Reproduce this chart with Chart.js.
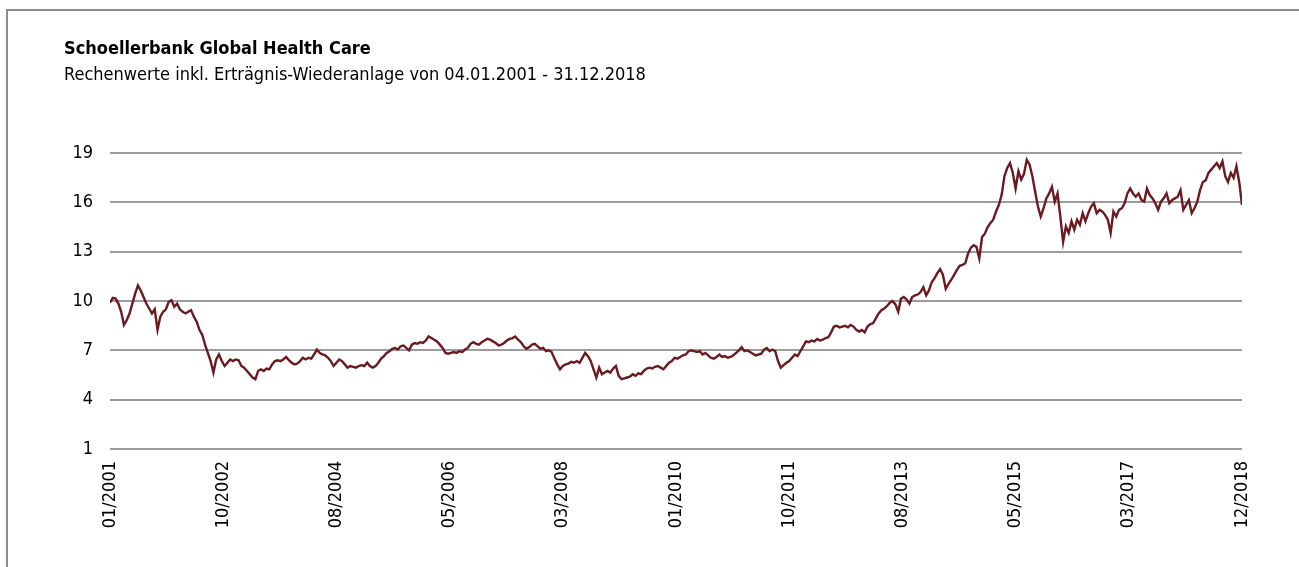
<!DOCTYPE html>
<html>
<head>
<meta charset="utf-8">
<title>Schoellerbank Global Health Care</title>
<script src="https://cdn.jsdelivr.net/npm/chart.js@4.4.1/dist/chart.umd.min.js"></script>
<style>
    html, body { margin: 0; padding: 0; background: #fff; overflow: hidden; }
    #wrap { position: relative; width: 1299px; height: 567px; }
    #frame {
        position: absolute; left: 6px; top: 9px; right: -10px; bottom: -10px;
        border-top: 2px solid #8c8c8c; border-left: 2px solid #8c8c8c;
    }
    #chart { position: absolute; left: 0; top: 0; }
</style>
</head>
<body>
<div id="wrap">
    <div id="frame"></div>
    <canvas id="chart" width="1299" height="567"></canvas>
</div>
<script>
const chartTitle = 'Schoellerbank Global Health Care';
const chartSubtitle = 'Rechenwerte inkl. Erträgnis-Wiederanlage von 04.01.2001 - 31.12.2018';

// date labels shown under the x axis, evenly spread from first to last value
const xTickLabels = ['01/2001', '10/2002', '08/2004', '05/2006', '03/2008', '01/2010',
    '10/2011', '08/2013', '05/2015', '03/2017', '12/2018'];

const yTicks = [1, 4, 7, 10, 13, 16, 19];

// fund value, roughly one point every 2.8px
const navValues = [
    // 2001 - 2003
    9.9, 10.2, 10.15, 9.85, 9.35, 8.55, 8.85, 9.25, 9.85, 10.45,
    10.95, 10.65, 10.25, 9.85, 9.55, 9.25, 9.5, 8.25, 9.05, 9.35,
    9.5, 9.95, 10.05, 9.65, 9.85, 9.5, 9.35, 9.25, 9.35, 9.45,
    9.05, 8.75, 8.25, 7.95, 7.35, 6.85, 6.35, 5.65, 6.45, 6.75,
    6.35, 6.05, 6.25, 6.45, 6.35, 6.45, 6.4, 6.05, 5.95, 5.75,
    5.55, 5.35, 5.25, 5.75, 5.85, 5.75, 5.9, 5.85, 6.15, 6.35,
    6.4, 6.35, 6.45, 6.6, 6.4, 6.25, 6.15, 6.2, 6.35, 6.55,
    // 2004 - 2006
    6.45, 6.55, 6.5, 6.75, 7.05, 6.85, 6.75, 6.7, 6.55, 6.35,
    6.05, 6.25, 6.45, 6.35, 6.15, 5.95, 6.05, 6.0, 5.95, 6.05,
    6.1, 6.05, 6.25, 6.05, 5.95, 6.05, 6.25, 6.5, 6.65, 6.85,
    6.95, 7.1, 7.15, 7.05, 7.25, 7.3, 7.15, 7.0, 7.35, 7.45,
    7.4, 7.5, 7.45, 7.6, 7.85, 7.75, 7.65, 7.55, 7.35, 7.15,
    6.85, 6.8, 6.85, 6.9, 6.85, 6.95, 6.9, 7.05, 7.15, 7.4,
    7.5, 7.4, 7.35, 7.5, 7.6, 7.7, 7.65, 7.55, 7.45, 7.3,
    // 2007 - 2009
    7.35, 7.45, 7.6, 7.7, 7.75, 7.85, 7.65, 7.5, 7.25, 7.1,
    7.2, 7.35, 7.4, 7.25, 7.1, 7.15, 6.95, 7.0, 6.9, 6.5,
    6.15, 5.85, 6.05, 6.15, 6.2, 6.3, 6.25, 6.35, 6.25, 6.55,
    6.85, 6.65, 6.35, 5.85, 5.35, 5.95, 5.55, 5.65, 5.75, 5.65,
    5.9, 6.05, 5.45, 5.25, 5.3, 5.35, 5.4, 5.55, 5.45, 5.6,
    5.55, 5.75, 5.9, 5.95, 5.9, 6.0, 6.05, 5.95, 5.85, 6.05,
    6.25, 6.35, 6.55, 6.5, 6.6, 6.7, 6.75, 6.95, 7.0, 6.95,
    // 2010 - 2013
    6.9, 6.95, 6.75, 6.85, 6.7, 6.55, 6.5, 6.6, 6.75, 6.6,
    6.65, 6.55, 6.6, 6.7, 6.85, 7.0, 7.2, 6.95, 7.0, 6.9,
    6.8, 6.7, 6.75, 6.8, 7.05, 7.15, 6.95, 7.05, 6.95, 6.35,
    5.95, 6.1, 6.25, 6.35, 6.55, 6.75, 6.65, 6.95, 7.25, 7.55,
    7.5, 7.6, 7.55, 7.7, 7.6, 7.65, 7.75, 7.8, 8.1, 8.45,
    8.5, 8.4, 8.45, 8.5, 8.4, 8.55, 8.45, 8.25, 8.15, 8.25,
    8.1, 8.45, 8.6, 8.65, 8.95, 9.25, 9.45, 9.55, 9.7, 9.9,
    // 2013 - 2015
    10.0, 9.8, 9.35, 10.15, 10.25, 10.1, 9.85, 10.25, 10.35, 10.4,
    10.55, 10.85, 10.35, 10.65, 11.15, 11.4, 11.7, 11.95, 11.6, 10.75,
    11.05, 11.3, 11.6, 11.9, 12.15, 12.2, 12.3, 12.9, 13.25, 13.4,
    13.3, 12.6, 13.9, 14.1, 14.5, 14.75, 14.95, 15.45, 15.85, 16.45,
    17.6, 18.1, 18.4, 17.8, 16.85, 17.9, 17.4, 17.75, 18.6, 18.3,
    17.6, 16.65, 15.75, 15.15, 15.65, 16.25, 16.55, 16.95, 16.05, 16.55,
    15.15,
    // 2016 - 2018
    13.6, 14.55, 14.15, 14.85, 14.35, 14.95, 14.65, 15.35, 14.85, 15.35,
    15.75, 15.95, 15.35, 15.55, 15.45, 15.25, 14.95, 14.15, 15.45, 15.15,
    15.55, 15.65, 15.95, 16.55, 16.85, 16.55, 16.35, 16.55, 16.15, 16.05,
    16.85, 16.45, 16.25, 15.95, 15.55, 16.05, 16.25, 16.55, 15.95, 16.15,
    16.25, 16.35, 16.75, 15.55, 15.85, 16.15, 15.35, 15.65, 16.05, 16.75,
    17.25, 17.35, 17.8, 18.0, 18.2, 18.4, 18.1, 18.5, 17.6, 17.25,
    17.8, 17.5, 18.2, 17.25, 15.85
];

const fontName = '"DejaVu Sans Condensed", "Liberation Sans Narrow", Arial, sans-serif';
const lastIndex = navValues.length - 1;

function renderLineChart(canvasID) {
    const ctx = document.getElementById(canvasID).getContext('2d');
    new Chart(ctx, {
        type: 'line',
        data: {
            datasets: [{
                label: chartTitle,
                data: navValues.map((v, i) => ({ x: i, y: v })),
                borderColor: '#6b1a1f',
                backgroundColor: '#6b1a1f',
                borderWidth: 2.4,
                pointRadius: 0,
                tension: 0,
                fill: false
            }]
        },
        options: {
            responsive: false,
            animation: false,
            devicePixelRatio: 1,
            layout: {
                padding: { left: 64, right: 57, top: 0, bottom: 0 }
            },
            plugins: {
                legend: { display: false },
                tooltip: { enabled: false },
                title: {
                    display: true,
                    text: chartTitle,
                    align: 'start',
                    color: '#000',
                    font: { family: fontName, size: 18, weight: 'bold', lineHeight: 1.2 },
                    padding: { top: 39, bottom: 0 }
                },
                subtitle: {
                    display: true,
                    text: chartSubtitle,
                    align: 'start',
                    color: '#000',
                    font: { family: fontName, size: 18, weight: 'normal', lineHeight: 1.2 },
                    padding: { top: 4, bottom: 67 }
                }
            },
            scales: {
                x: {
                    type: 'linear',
                    min: 0,
                    max: lastIndex,
                    grid: { display: false, drawTicks: false },
                    border: { display: false },
                    afterBuildTicks: (scale) => {
                        scale.ticks = xTickLabels.map((_, i) => ({ value: i * lastIndex / (xTickLabels.length - 1) }));
                    },
                    afterFit: (scale) => { scale.height = 118; },
                    ticks: {
                        autoSkip: false,
                        minRotation: 90,
                        maxRotation: 90,
                        padding: 12,
                        color: '#000',
                        font: { family: fontName, size: 18 },
                        callback: (value, index) => xTickLabels[index]
                    }
                },
                y: {
                    min: 1,
                    max: 19,
                    grid: { color: '#9c9c9c', lineWidth: 2, drawTicks: false },
                    border: { display: false },
                    afterBuildTicks: (scale) => {
                        scale.ticks = yTicks.map(v => ({ value: v }));
                    },
                    afterFit: (scale) => { scale.width = 46; },
                    ticks: {
                        padding: 17,
                        color: '#000',
                        font: { family: fontName, size: 18 }
                    }
                }
            }
        }
    });
}

renderLineChart('chart');
</script>
</body>
</html>
